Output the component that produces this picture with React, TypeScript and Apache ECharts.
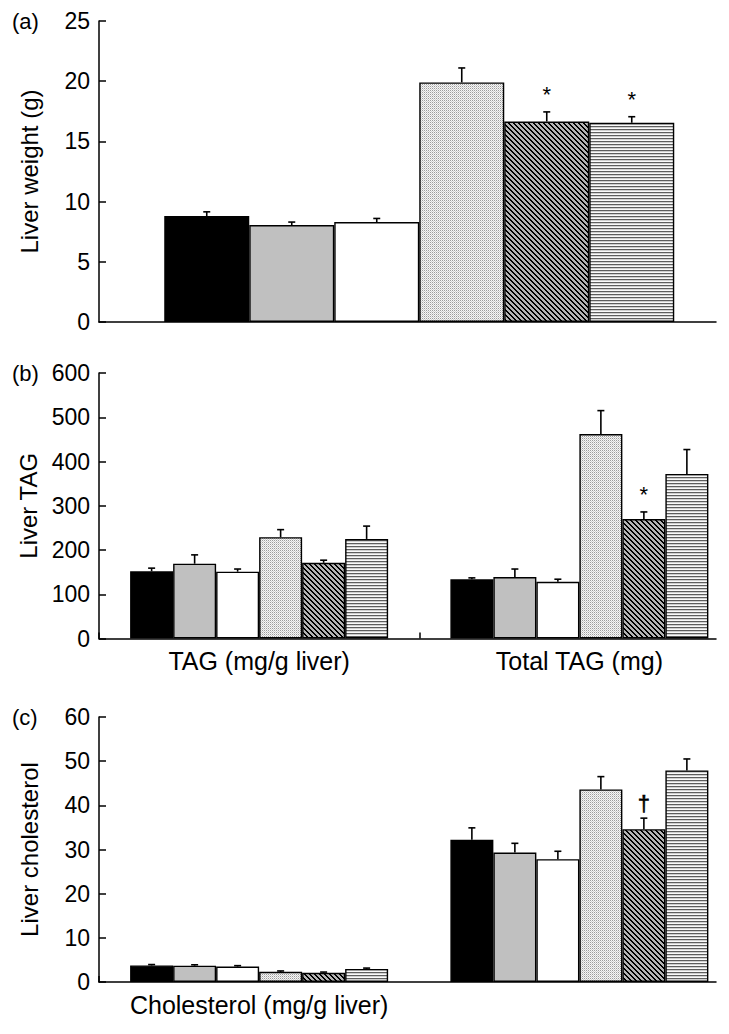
import React, { useEffect, useRef } from 'react';
import * as echarts from 'echarts';

// ---------- data ----------
const treatments = ['Group 1', 'Group 2', 'Group 3', 'Group 4', 'Group 5', 'Group 6'];

// Panel (a): liver weight (g)
const panelACategories = [''];
const liverWeightMean = [8.8, 8.05, 8.3, 19.9, 16.65, 16.55];
const liverWeightSE = [0.35, 0.25, 0.3, 1.2, 0.8, 0.5];
const liverWeightMarks = ['', '', '', '', '*', '*'];

// Panel (b): liver TAG
const panelBCategories = ['TAG (mg/g liver)', 'Total TAG (mg)'];
const tagPerGMean = [152, 169, 151, 229, 171, 225];
const tagPerGSE = [7, 20, 6, 17, 6, 29];
const tagPerGMarks = ['', '', '', '', '', ''];
const tagTotalMean = [134, 139, 128, 462, 270, 372];
const tagTotalSE = [3, 18, 6, 53, 16, 55];
const tagTotalMarks = ['', '', '', '', '*', ''];

// Panel (c): liver cholesterol
const panelCCategories = ['Cholesterol (mg/g liver)', 'TC (mg)'];
const cholPerGMean = [3.75, 3.7, 3.5, 2.3, 2.1, 2.95];
const cholPerGSE = [0.2, 0.2, 0.2, 0.2, 0.15, 0.2];
const cholPerGMarks = ['', '', '', '', '', ''];
const tcMean = [32.2, 29.3, 27.8, 43.6, 34.6, 47.9];
const tcSE = [2.7, 2.1, 1.8, 2.9, 2.5, 2.6];
const tcMarks = ['', '', '', '', '\u2020', ''];

// axis scales
const yAxisA = { min: 0, max: 25, interval: 5 };
const yAxisB = { min: 0, max: 600, interval: 100 };
const yAxisC = { min: 0, max: 60, interval: 10 };

// ---------- styling ----------
const FONT = '"Liberation Sans", Arial, Helvetica, sans-serif';
const GRID_LEFT = 99;
const FRAME_WIDTH = 617;
const BAR_GRID_WIDTH = 640.5;

function makeCanvas(w: number, h: number, paint: (x: number, y: number) => string) {
  const c = document.createElement('canvas');
  c.width = w;
  c.height = h;
  const ctx = c.getContext('2d')!;
  for (let y = 0; y < h; y++) {
    for (let x = 0; x < w; x++) {
      ctx.fillStyle = paint(x, y);
      ctx.fillRect(x, y, 1, 1);
    }
  }
  return c;
}

function buildFills(): any[] {
  const dotted = makeCanvas(2, 2, (x, y) =>
    x === 0 && y === 0 ? '#9c9c9c' : x === 1 && y === 1 ? '#cfcfcf' : '#f6f6f6'
  );
  const hatched = makeCanvas(5, 5, (x, y) => {
    const d = (((x - y) % 5) + 5) % 5;
    return d === 0 || d === 1 ? '#000000' : '#b4b4b4';
  });
  const striped = makeCanvas(4, 3, (_x, y) => (y === 0 ? '#5e5e5e' : y === 1 ? '#d0d0d0' : '#fafafa'));
  return [
    '#000000',
    '#c0c0c0',
    '#ffffff',
    { image: dotted, repeat: 'repeat', imageWidth: 2, imageHeight: 2 },
    { image: hatched, repeat: 'repeat', imageWidth: 5, imageHeight: 5 },
    { image: striped, repeat: 'repeat', imageWidth: 4, imageHeight: 3 },
  ];
}

export default function App() {
  const ref = useRef<HTMLDivElement>(null);

  useEffect(() => {
    if (!ref.current) return;
    const chart = echarts.init(ref.current, undefined, { renderer: 'svg' });
    const fills = buildFills();

    const panels = [
      {
        label: '(a)', name: 'Liver weight (g)', categories: panelACategories,
        means: [liverWeightMean], ses: [liverWeightSE], marks: [liverWeightMarks],
        axis: yAxisA, top: 21, height: 301, barWidth: 85, showTick: false,
      },
      {
        label: '(b)', name: 'Liver TAG', categories: panelBCategories,
        means: [tagPerGMean, tagTotalMean], ses: [tagPerGSE, tagTotalSE], marks: [tagPerGMarks, tagTotalMarks],
        axis: yAxisB, top: 373, height: 265.5, barWidth: 43, showTick: true,
      },
      {
        label: '(c)', name: 'Liver cholesterol', categories: panelCCategories,
        means: [cholPerGMean, tcMean], ses: [cholPerGSE, tcSE], marks: [cholPerGMarks, tcMarks],
        axis: yAxisC, top: 717, height: 265, barWidth: 43, showTick: true,
      },
    ];

    const grid: any[] = [];
    const xAxis: any[] = [];
    const yAxis: any[] = [];
    const series: any[] = [];
    const graphic: any[] = [];

    panels.forEach((p, pi) => {
      const frameIdx = pi * 2;
      const barIdx = pi * 2 + 1;
      grid.push({ left: GRID_LEFT, top: p.top, width: FRAME_WIDTH, height: p.height, outerBoundsMode: 'none', containLabel: false });
      grid.push({ left: GRID_LEFT, top: p.top, width: BAR_GRID_WIDTH, height: p.height, outerBoundsMode: 'none', containLabel: false });

      xAxis.push({
        type: 'value', gridIndex: frameIdx, min: 0, max: 1,
        axisLine: { show: true, lineStyle: { color: '#000', width: 1.5 } },
        axisTick: { show: false }, axisLabel: { show: false }, splitLine: { show: false },
      });
      xAxis.push({
        type: 'category', gridIndex: barIdx, data: p.categories,
        axisLine: { show: false },
        axisTick: { show: p.showTick, inside: true, length: 6, lineStyle: { color: '#000', width: 1.5 } },
        axisLabel: { show: true, color: '#000', fontSize: 25, fontFamily: FONT, margin: 10 },
        splitLine: { show: false },
      });
      yAxis.push({
        type: 'value', gridIndex: frameIdx, min: p.axis.min, max: p.axis.max, interval: p.axis.interval,
        name: p.name, nameLocation: 'middle', nameGap: 58,
        nameTextStyle: { color: '#000', fontSize: 24, fontFamily: FONT },
        axisLine: { show: true, lineStyle: { color: '#000', width: 1.5 } },
        axisTick: { show: true, inside: true, length: 7, lineStyle: { color: '#000', width: 1.5 } },
        axisLabel: { color: '#000', fontSize: 23, fontFamily: FONT, margin: 9 },
        splitLine: { show: false },
      });
      yAxis.push({
        type: 'value', gridIndex: barIdx, min: p.axis.min, max: p.axis.max, interval: p.axis.interval, show: false,
        splitLine: { show: false },
      });

      treatments.forEach((t, ti) => {
        series.push({
          type: 'bar', name: t, xAxisIndex: barIdx, yAxisIndex: barIdx,
          barWidth: p.barWidth, barGap: '0%',
          data: p.means.map((row) => row[ti]),
          itemStyle: { color: fills[ti], borderColor: '#000', borderWidth: 1.4 },
          emphasis: { disabled: true }, silent: true,
        });
      });

      const items: { cat: number; t: number; mean: number; se: number; mark: string }[] = [];
      p.means.forEach((row, ci) => {
        row.forEach((m, ti) => {
          items.push({ cat: ci, t: ti, mean: m, se: p.ses[ci][ti], mark: p.marks[ci][ti] });
        });
      });
      const bw = p.barWidth;
      series.push({
        type: 'custom', xAxisIndex: barIdx, yAxisIndex: barIdx, silent: true, z: 5,
        data: items.map((it) => [it.cat, it.mean, it.se]),
        renderItem: (params: any, api: any) => {
          const it = items[params.dataIndex];
          const base = api.coord([it.cat, it.mean]);
          const top = api.coord([it.cat, it.mean + it.se]);
          const x = base[0] + (it.t - 2.5) * bw;
          const children: any[] = [
            { type: 'line', shape: { x1: x, y1: base[1], x2: x, y2: top[1] }, style: { stroke: '#000', lineWidth: 1.6 } },
            { type: 'line', shape: { x1: x - 3.5, y1: top[1], x2: x + 3.5, y2: top[1] }, style: { stroke: '#000', lineWidth: 1.6 } },
          ];
          if (it.mark) {
            const isStar = it.mark === '*';
            children.push({
              type: 'text', x, y: top[1] - (isStar ? 6 : 4),
              style: {
                text: it.mark, fontSize: isStar ? 22 : 22, fontFamily: FONT, fill: '#000', stroke: '#000', lineWidth: isStar ? 0 : 0.6,
                align: 'center', verticalAlign: 'bottom', textAlign: 'center', textVerticalAlign: 'bottom',
              },
            });
          }
          return { type: 'group', children };
        },
      });

      graphic.push({
        type: 'text', x: 12, y: p.top,
        style: {
          text: p.label, fontSize: 22, fontFamily: FONT, fill: '#000',
          align: 'left', verticalAlign: 'middle', textAlign: 'left', textVerticalAlign: 'middle',
        },
      });
    });

    chart.setOption({
      animation: false,
      backgroundColor: '#ffffff',
      grid, xAxis, yAxis, series, graphic,
    });

    return () => chart.dispose();
  }, []);

  return (
    <div
      ref={ref}
      style={{ position: 'absolute', left: 0, top: 0, width: 729, height: 1034 }}
    />
  );
}
